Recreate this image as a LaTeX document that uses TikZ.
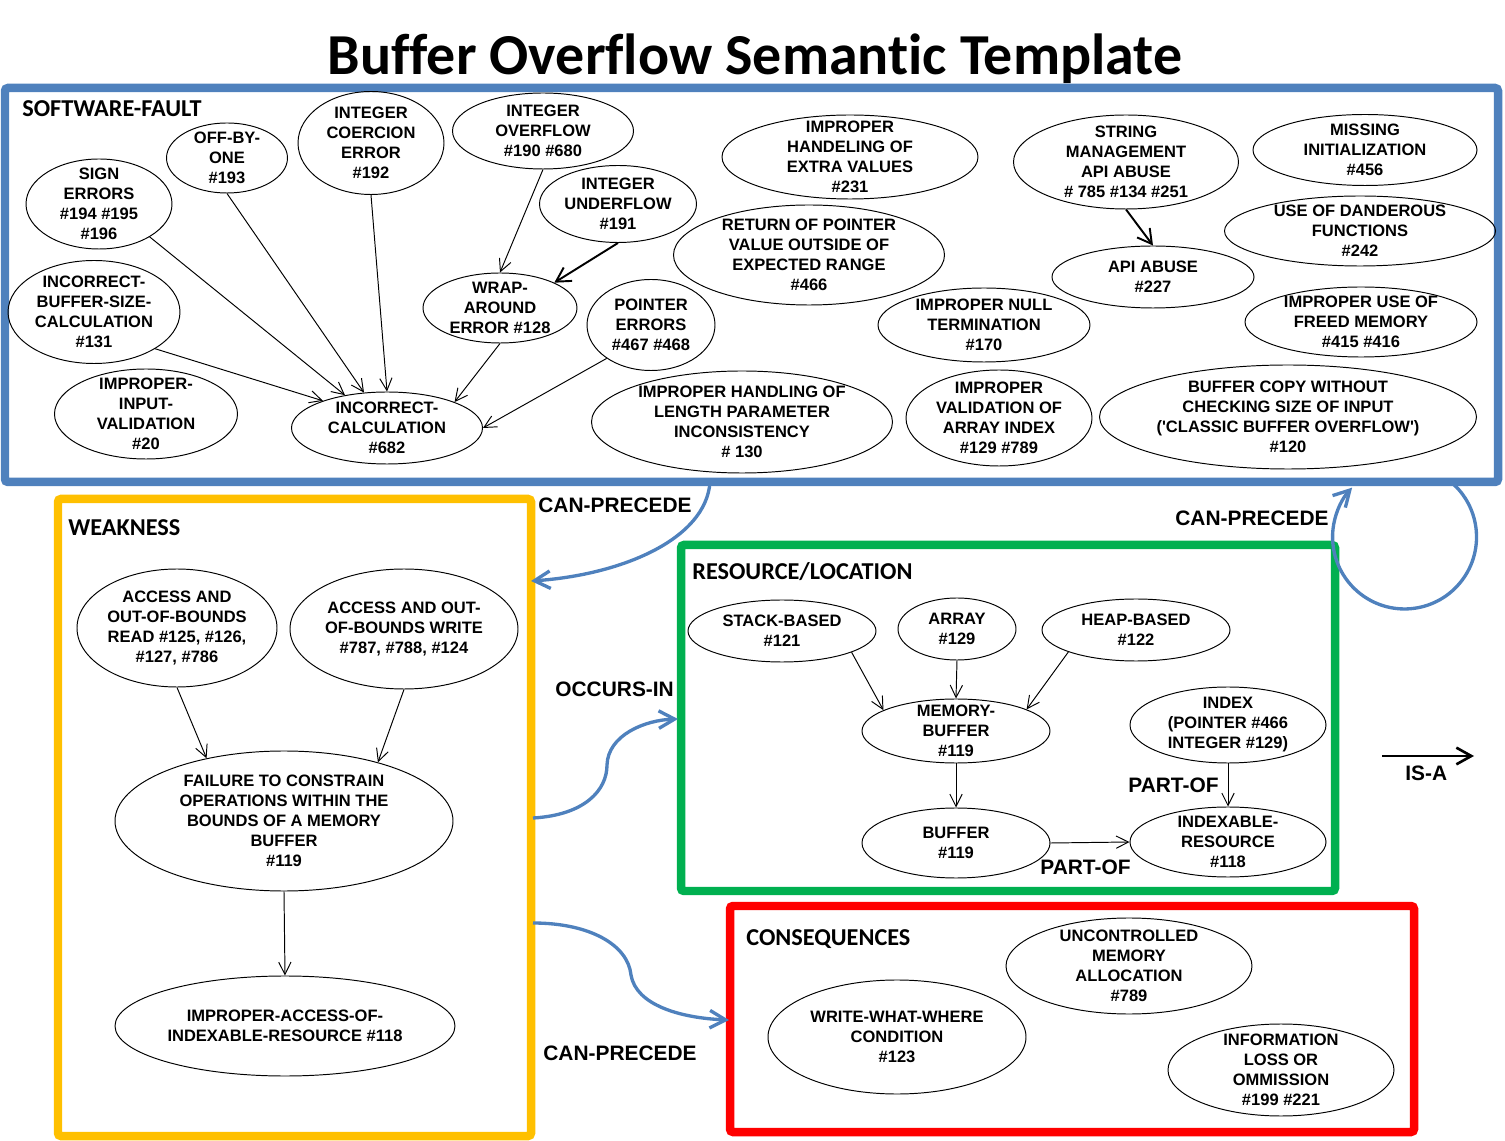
\documentclass[tikz,border=0pt]{standalone}
\usepackage{fontspec}
\setmainfont{Liberation Sans}
\newfontfamily\calibri[Ligatures=CommonOff]{Carlito}
\newfontfamily\plainarial{Liberation Sans}
\usepackage{tikz}
\usetikzlibrary{shapes.geometric, arrows.meta, positioning, calc}

\definecolor{faultblue}{RGB}{79,129,189}
\definecolor{weakyellow}{RGB}{255,192,0}
\definecolor{resgreen}{RGB}{0,176,80}
\definecolor{conred}{RGB}{255,0,0}

\newcommand{\squote}{{\plainarial\bfseries '}}

\begin{document}
\begin{tikzpicture}[x=0.02cm, y=-0.02cm,
        ell/.style 2 args={ellipse, draw, line width=0.55pt, minimum width=#1*0.02cm, minimum height=#2*0.02cm, inner sep=-12pt, align=center, font=\bfseries\fontsize{9.4}{11.4}\selectfont},
        frame/.style={draw=#1, line width=0.17cm, rounded corners=0.06cm, inner sep=0pt},
        seclabel/.style={anchor=base west, inner sep=0pt, font=\calibri\bfseries\fontsize{13.8}{16}\selectfont},
        rel/.style={anchor=base west, inner sep=0pt, font=\bfseries\fontsize{11.9}{14}\selectfont},
        line/.style={draw, line width=0.55pt, -{Straight Barb[length=7pt, width=7pt]}},
        bigline/.style={draw, line width=1.1pt, -{Straight Barb[length=8pt, width=9pt]}},
        relation/.style={draw=faultblue, line width=1.9pt, -{Straight Barb[length=9pt, width=10pt]}},
        isa/.style={draw, line width=1.5pt, -{Straight Barb[length=8.5pt, width=9.5pt]}}]

        \useasboundingbox (0,0) rectangle (1505,1141);

        \node[anchor=base, font=\calibri\bfseries\fontsize{33}{40}\selectfont] (title) at (755,75) {Buffer Overflow Semantic Template};

        % Frames
        \node[frame=faultblue, minimum width=1493*0.02cm, minimum height=394*0.02cm] (fault) at (751.5,285) {};
        \node[frame=weakyellow, minimum width=473*0.02cm, minimum height=637*0.02cm] (weak) at (294.5,817.5) {};
        \node[frame=resgreen, minimum width=654*0.02cm, minimum height=346*0.02cm] (res) at (1008,718) {};
        \node[frame=conred, minimum width=684*0.02cm, minimum height=226*0.02cm] (cons) at (1072,1019) {};

        \node[seclabel] (faultlbl) at (22,117) {SOFTWARE-FAULT};
        \node[seclabel] (weaklbl) at (68,536) {WEAKNESS};
        \node[seclabel] (reslbl) at (692,580) {RESOURCE/LOCATION};
        \node[seclabel] (conslbl) at (746,945) {CONSEQUENCES};

        % Software faults
        \node[ell={146}{90}] (sign) at (99,204) {SIGN\\ERRORS\\\#194 \#195\\\#196};
        \node[ell={121}{70}] (offbyone) at (227,158) {OFF-BY-\\ONE\\\#193};
        \node[ell={146}{103}] (coercion) at (371,143) {INTEGER\\COERCION\\ERROR\\\#192};
        \node[ell={181}{76}] (overflow) at (543,131) {INTEGER\\OVERFLOW\\\#190 \#680};
        \node[ell={157}{77}] (underflow) at (618,204) {INTEGER\\UNDERFLOW\\\#191};
        \node[ell={256}{84}] (extravals) at (850,157) {IMPROPER\\HANDELING OF\\EXTRA VALUES\\\#231};
        \node[ell={271}{100}] (retptr) at (809,255) {RETURN OF POINTER\\VALUE OUTSIDE OF\\EXPECTED RANGE\\\#466};
        \node[ell={225}{94}] (strmgmt) at (1126,162) {STRING\\MANAGEMENT\\API ABUSE\\\# 785 \#134 \#251};
        \node[ell={224}{71}] (missinit) at (1365,150) {MISSING\\INITIALIZATION\\\#456};
        \node[ell={271}{70}] (dangerous) at (1360,231) {USE OF DANDEROUS\\FUNCTIONS\\\#242};
        \node[ell={202}{62}] (apiabuse) at (1153,277) {API ABUSE\\\#227};
        \node[ell={212}{74}] (nullterm) at (984,325) {IMPROPER NULL\\TERMINATION\\\#170};
        \node[ell={232}{70}] (freedmem) at (1361,322) {IMPROPER USE OF\\FREED MEMORY\\\#415 \#416};
        \node[ell={172}{103}] (bufsize) at (94,312) {INCORRECT-\\BUFFER-SIZE-\\CALCULATION\\\#131};
        \node[ell={154}{70}] (wrap) at (500,308) {WRAP-\\AROUND\\ERROR \#128};
        \node[ell={128}{91}] (ptrerr) at (651,325) {POINTER\\ERRORS\\\#467 \#468};
        \node[ell={183}{90}] (inputval) at (146,414) {IMPROPER-\\INPUT-\\VALIDATION\\\#20};
        \node[ell={191}{72}] (incalc) at (387,428) {INCORRECT-\\CALCULATION\\\#682};
        \node[ell={301}{102}] (lenparam) at (742,422) {IMPROPER HANDLING OF\\LENGTH PARAMETER\\INCONSISTENCY\\\# 130};
        \node[ell={186}{96}] (arrayidx) at (999,418) {IMPROPER\\VALIDATION OF\\ARRAY INDEX\\\#129 \#789};
        \node[ell={377}{104}] (classic) at (1288,417) {BUFFER COPY WITHOUT\\CHECKING SIZE OF INPUT\\(\squote CLASSIC BUFFER OVERFLOW\squote)\\\#120};

        % Weakness
        \node[ell={200}{118}] (read) at (177,628) {ACCESS AND\\OUT-OF-BOUNDS\\READ \#125, \#126,\\\#127, \#786};
        \node[ell={228}{120}] (write) at (404,629) {ACCESS AND OUT-\\OF-BOUNDS WRITE\\\#787, \#788, \#124};
        \node[ell={338}{140}] (failure) at (284,821) {FAILURE TO CONSTRAIN\\OPERATIONS WITHIN THE\\BOUNDS OF A MEMORY\\BUFFER\\\#119};
        \node[ell={340}{100}] (impacc) at (285,1026) {IMPROPER-ACCESS-OF-\\INDEXABLE-RESOURCE \#118};

        % Resource / location
        \node[ell={188}{62}] (stack) at (782,631) {STACK-BASED\\\#121};
        \node[ell={118}{62}] (array) at (957,629) {ARRAY\\\#129};
        \node[ell={188}{62}] (heap) at (1136,630) {HEAP-BASED\\\#122};
        \node[ell={188}{64}] (membuf) at (956,731) {MEMORY-\\BUFFER\\\#119};
        \node[ell={196}{76}] (index) at (1228,725) {INDEX\\(POINTER \#466\\INTEGER \#129)};
        \node[ell={188}{70}] (buffer) at (956,843) {BUFFER\\\#119};
        \node[ell={196}{70}] (indexable) at (1228,842) {INDEXABLE-\\RESOURCE\\\#118};

        % Consequences
        \node[ell={246}{96}] (uncontrolled) at (1129,966) {UNCONTROLLED\\MEMORY\\ALLOCATION\\\#789};
        \node[ell={258}{114}] (www) at (897,1037) {WRITE-WHAT-WHERE\\CONDITION\\\#123};
        \node[ell={226}{92}] (infoloss) at (1281,1070) {INFORMATION\\LOSS OR\\OMMISSION\\\#199 \#221};

        % Paths
        \path[line] (sign.-33) -- (incalc.142);
        \path[line] (offbyone.south) -- (incalc.123);
        \path[line] (coercion.south) -- (incalc.north);
        \path[line] (bufsize.-31) -- (incalc.157);
        \path[line] (wrap.south) -- (incalc.21);
        \path[line] (ptrerr.217) -- (incalc.east);
        \path[line] (overflow.south) -- (wrap.north);
        \path[bigline] (underflow.south) -- (wrap.25);
        \path[bigline] (strmgmt.south) -- (apiabuse.north);

        \path[line] (read.south) -- (failure.141);
        \path[line] (write.south) -- (failure.32);
        \path[line] (failure.south) -- (impacc.north);

        \path[line] (stack.-17) -- (membuf.164);
        \path[line] (array.south) -- (membuf.north);
        \path[line] (heap.198) -- (membuf.17);
        \path[line] (membuf.south) -- (buffer.north);
        \path[line] (index.south) -- (indexable.north);
        \path[line] (buffer.east) -- (indexable.west);

        \node[rel] (partof1) at (1128,793) {PART-OF};
        \node[rel] (partof2) at (1040,874) {PART-OF};

        % Relations between the frames
        \coordinate (fault-out) at (710,482);
        \coordinate (weak-in) at (531,581);
        \coordinate (weak-occ) at (533,818);
        \coordinate (res-in) at (678,719);
        \coordinate (weak-cons) at (533,923);
        \coordinate (cons-in) at (729,1020);
        \coordinate (loop) at (1451,482);

        \draw[relation] (fault-out) .. controls (706,540) and (620,575) .. (weak-in);
        \draw[relation] (weak-occ) .. controls (585,815) and (607,790) .. (607,765) .. controls (608,735) and (645,720) .. (res-in);
        \draw[relation] (weak-cons) .. controls (590,923) and (628,945) .. (631,975) .. controls (636,1005) and (680,1018) .. (cons-in);
        \draw[relation] (loop) arc[start angle=49.8, end angle=-223.3, radius=1.44cm];

        \node[rel] (cp1) at (538,513) {CAN-PRECEDE};
        \node[rel] (occurs) at (555,697) {OCCURS-IN};
        \node[rel] (cp2) at (543,1060) {CAN-PRECEDE};
        \node[rel] (cp3) at (1175,526) {CAN-PRECEDE};

        % Legend
        \coordinate (isa-a) at (1382,756);
        \coordinate (isa-b) at (1474,756);
        \draw[isa] (isa-a) -- (isa-b);
        \node[rel] (isalbl) at (1405,781) {IS-A};

    \end{tikzpicture}
\end{document}
